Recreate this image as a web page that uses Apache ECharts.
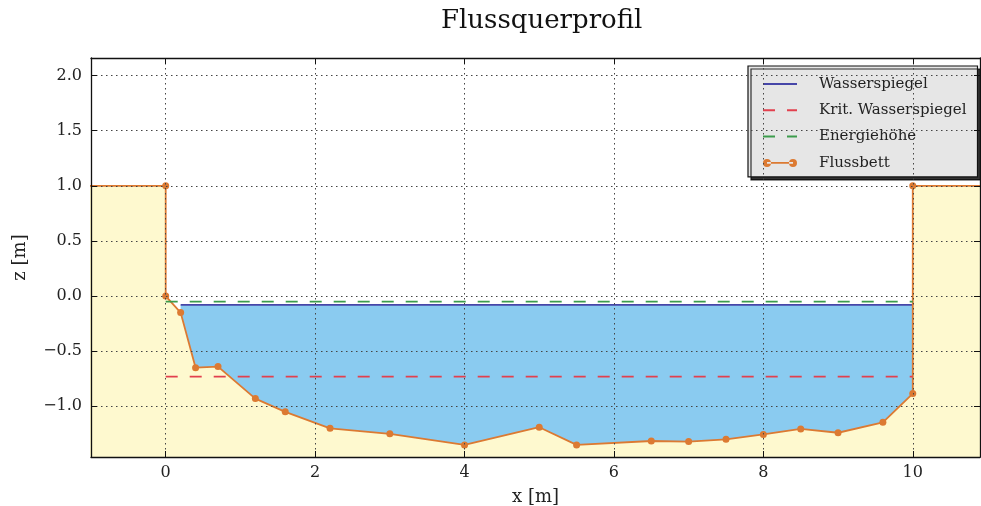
<!DOCTYPE html>
<html><head><meta charset="utf-8">
<script src="https://cdn.jsdelivr.net/npm/echarts@6/dist/echarts.min.js"></script>
<style>html,body{margin:0;padding:0;background:#fff}#c{width:981px;height:506px}</style>
</head><body><div id="c"></div>
<script>
// ---- data ----
const bedX = [-2, 0, 0, 0.2, 0.4, 0.7, 1.2, 1.6, 2.2, 3.0, 4.0, 5.0, 5.5, 6.5, 7.0, 7.5, 8.0, 8.5, 9.0, 9.6, 10.0, 10.0, 12];
const bedZ = [1.0, 1.0, 0.0, -0.15, -0.65, -0.64, -0.93, -1.05, -1.2, -1.25, -1.35, -1.19, -1.35, -1.315, -1.32, -1.30, -1.255, -1.205, -1.24, -1.145, -0.885, 1.0, 1.0];
const waterLevel = -0.08;
const critLevel = -0.73;
const energyLevel = -0.05;
const channelStart = 0;
const channelEnd = 10;
const xRange = [-1, 10.9];
const zRange = [-1.46, 2.16];
const legendNames = ['Wasserspiegel', 'Krit. Wasserspiegel', 'Energiehöhe', 'Flussbett'];

// ---- derived ----
const bed = bedX.map((x, i) => [x, bedZ[i]]);
let wetStart = channelStart;
for (let i = 0; i < bedX.length; i++) {
  if (bedX[i] >= channelStart && bedZ[i] < waterLevel) { wetStart = bedX[i]; break; }
}
const water = [[wetStart, waterLevel], [channelEnd, waterLevel]];
const crit = [[channelStart, critLevel], [channelEnd, critLevel]];
const energy = [[channelStart, energyLevel], [channelEnd, energyLevel]];

const FONT = 'DejaVu Serif';
const C_BED = '#DC7A32', C_WATER = '#4646A8', C_CRIT = '#E2404E', C_EN = '#3C9C4C';
const fmt = v => (v < 0 ? '\u2212' : '') + Math.abs(v).toFixed(1);

const frameAxis = (extra) => Object.assign({
  type: 'value', z: 10,
  axisLine: { show: true, onZero: false, lineStyle: { color: '#111', width: 1.3 } },
  axisTick: { show: true, inside: true, length: 6, lineStyle: { color: '#111', width: 1 } },
  splitLine: { show: false },
  axisLabel: { show: false }
}, extra);

const chart = echarts.init(document.getElementById('c'), null, { renderer: 'canvas' });
chart.setOption({
  animation: false,
  backgroundColor: '#fff',
  title: {
    text: 'Flussquerprofil', left: 436, top: 3,
    textStyle: { fontFamily: FONT, fontSize: 26, fontWeight: 'normal', color: '#111' }
  },
  grid: { left: 91, right: 1, top: 58, bottom: 49, containLabel: false, outerBoundsMode: 'none' },
  legend: {
    orient: 'vertical', left: 748, top: 66,
    padding: [10.5, 11, 6.5, 14],
    itemWidth: 34, itemHeight: 8, itemGap: 11.3,
    textStyle: { fontFamily: FONT, fontSize: 15, color: '#222', padding: [0, 0, 0, 17] },
    backgroundColor: '#E6E6E6', borderColor: '#111', borderWidth: 1.2, borderRadius: 0,
    shadowColor: 'rgba(0,0,0,0.8)', shadowBlur: 0.5, shadowOffsetX: 3, shadowOffsetY: 3,
    selectedMode: false,
    data: [
      { name: legendNames[0], itemStyle: { opacity: 0 } },
      { name: legendNames[1], itemStyle: { opacity: 0 } },
      { name: legendNames[2], itemStyle: { opacity: 0 } },
      { name: legendNames[3], icon: 'path://M0,4a4,4 0 1,0 8,0a4,4 0 1,0 -8,0Z M26,4a4,4 0 1,0 8,0a4,4 0 1,0 -8,0Z M4,3.2L30,3.2L30,4.8L4,4.8Z' }
    ]
  },
  xAxis: [
    frameAxis({
      position: 'bottom', min: xRange[0], max: xRange[1], splitNumber: 5,
      name: 'x [m]', nameLocation: 'middle', nameGap: 31,
      nameTextStyle: { fontFamily: FONT, fontSize: 18, color: '#222' },
      axisLabel: { show: true, fontFamily: FONT, fontSize: 16, color: '#222', margin: 8, showMinLabel: false, showMaxLabel: false, formatter: v => String(v) },
      splitLine: { show: true, lineStyle: { color: '#444', width: 1, type: [1.5, 3.5] } }
    }),
    frameAxis({ position: 'top', min: xRange[0], max: xRange[1], splitNumber: 5 })
  ],
  yAxis: [
    frameAxis({
      position: 'left', min: zRange[0], max: zRange[1], splitNumber: 7,
      name: 'z [m]', nameLocation: 'middle', nameGap: 62, nameRotate: 90,
      nameTextStyle: { fontFamily: FONT, fontSize: 18, color: '#222' },
      axisLabel: { show: true, fontFamily: FONT, fontSize: 16, color: '#222', margin: 9, showMinLabel: false, showMaxLabel: false, formatter: fmt },
      splitLine: { show: true, lineStyle: { color: '#444', width: 1, type: [1.5, 3.5] } }
    }),
    frameAxis({ position: 'right', min: zRange[0], max: zRange[1], splitNumber: 7 })
  ],
  series: [
    {
      name: legendNames[0], type: 'line', data: water, symbol: 'none',
      lineStyle: { color: C_WATER, width: 1.6 }, itemStyle: { color: C_WATER },
      areaStyle: { color: '#8ACBF0', opacity: 1, origin: 'start' }, z: 2
    },
    {
      name: legendNames[3], type: 'line', data: bed, symbol: 'circle', symbolSize: 7,
      lineStyle: { color: C_BED, width: 1.8 }, itemStyle: { color: C_BED },
      areaStyle: { color: '#FEF9CF', opacity: 1, origin: 'start' }, z: 3
    },
    {
      name: legendNames[1], type: 'line', data: crit, symbol: 'none',
      lineStyle: { color: C_CRIT, width: 1.8, type: [12, 12] }, itemStyle: { color: C_CRIT }, z: 4
    },
    {
      name: legendNames[2], type: 'line', data: energy, symbol: 'none',
      lineStyle: { color: C_EN, width: 1.8, type: [12, 12] }, itemStyle: { color: C_EN }, z: 4
    }
  ]
});
</script></body></html>
